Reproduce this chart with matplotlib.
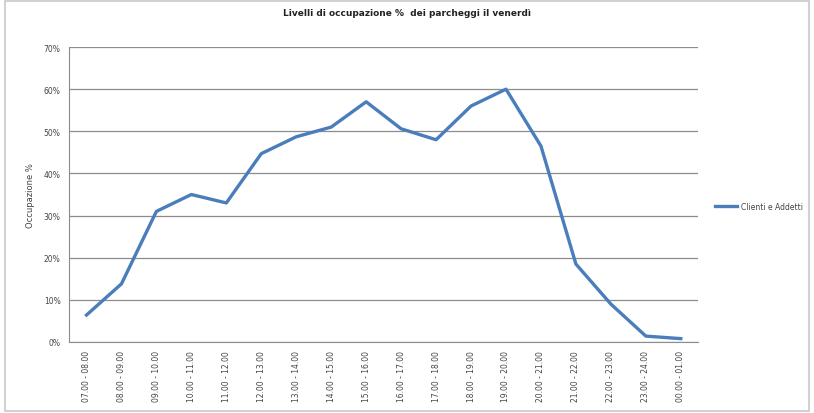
import matplotlib.pyplot as plt
from matplotlib.patches import Rectangle

fasce = ['07.00 - 08.00', '08.00 - 09.00', '09.00 - 10.00', '10.00 - 11.00',
         '11.00 - 12.00', '12.00 - 13.00', '13.00 - 14.00', '14.00 - 15.00',
         '15.00 - 16.00', '16.00 - 17.00', '17.00 - 18.00', '18.00 - 19.00',
         '19.00 - 20.00', '20.00 - 21.00', '21.00 - 22.00', '22.00 - 23.00',
         '23.00 - 24.00', '00.00 - 01.00']
occupazione = [6.4, 13.8, 31.0, 35.0, 33.0, 44.7, 48.7, 51.0, 57.0, 50.6,
               48.0, 56.0, 60.0, 46.5, 18.5, 9.0, 1.4, 0.8]
yticks = [0, 10, 20, 30, 40, 50, 60, 70]

fig = plt.figure(figsize=(8.14, 4.14), dpi=100)
fig.patches.append(Rectangle((0.006, 0.005), 0.988, 0.99, transform=fig.transFigure,
                             fill=False, edgecolor='#c8c8c8', lw=1.2))
ax = fig.add_axes([0.0848, 0.1715, 0.773, 0.7125])

x = range(len(fasce))
ax.plot(x, occupazione, color='#4a7ebb', lw=2.4, label='Clienti e Addetti')
ax.set_xlim(-0.5, len(fasce) - 0.5)
ax.set_ylim(0, 70)
ax.set_yticks(yticks)
ax.set_yticklabels([f'{v}%' for v in yticks], fontsize=5.5, color='#444444')
ax.set_xticks(list(x))
ax.set_xticklabels(fasce, rotation=90, fontsize=5.5, color='#444444')
ax.tick_params(length=0, pad=6)
ax.yaxis.grid(True, color='#8c8c8c', lw=0.9)
ax.set_axisbelow(True)
ax.spines['right'].set_visible(False)
ax.spines['top'].set_visible(False)
for s in ax.spines.values():
    s.set_color('#8c8c8c')
ax.set_ylabel('Occupazione %', fontsize=6, color='#444444', labelpad=6)

fig.text(0.5, 0.967, 'Livelli di occupazione %  dei parcheggi il venerdì',
         ha='center', va='center', fontsize=6.5, fontweight='bold', color='#222222')
ax.legend(loc='center left', bbox_to_anchor=(1.015, 0.46), frameon=False,
          fontsize=5.5, handlelength=3.0, handletextpad=0.4, labelcolor='#444444')

fig.savefig('out.png', dpi=100)
